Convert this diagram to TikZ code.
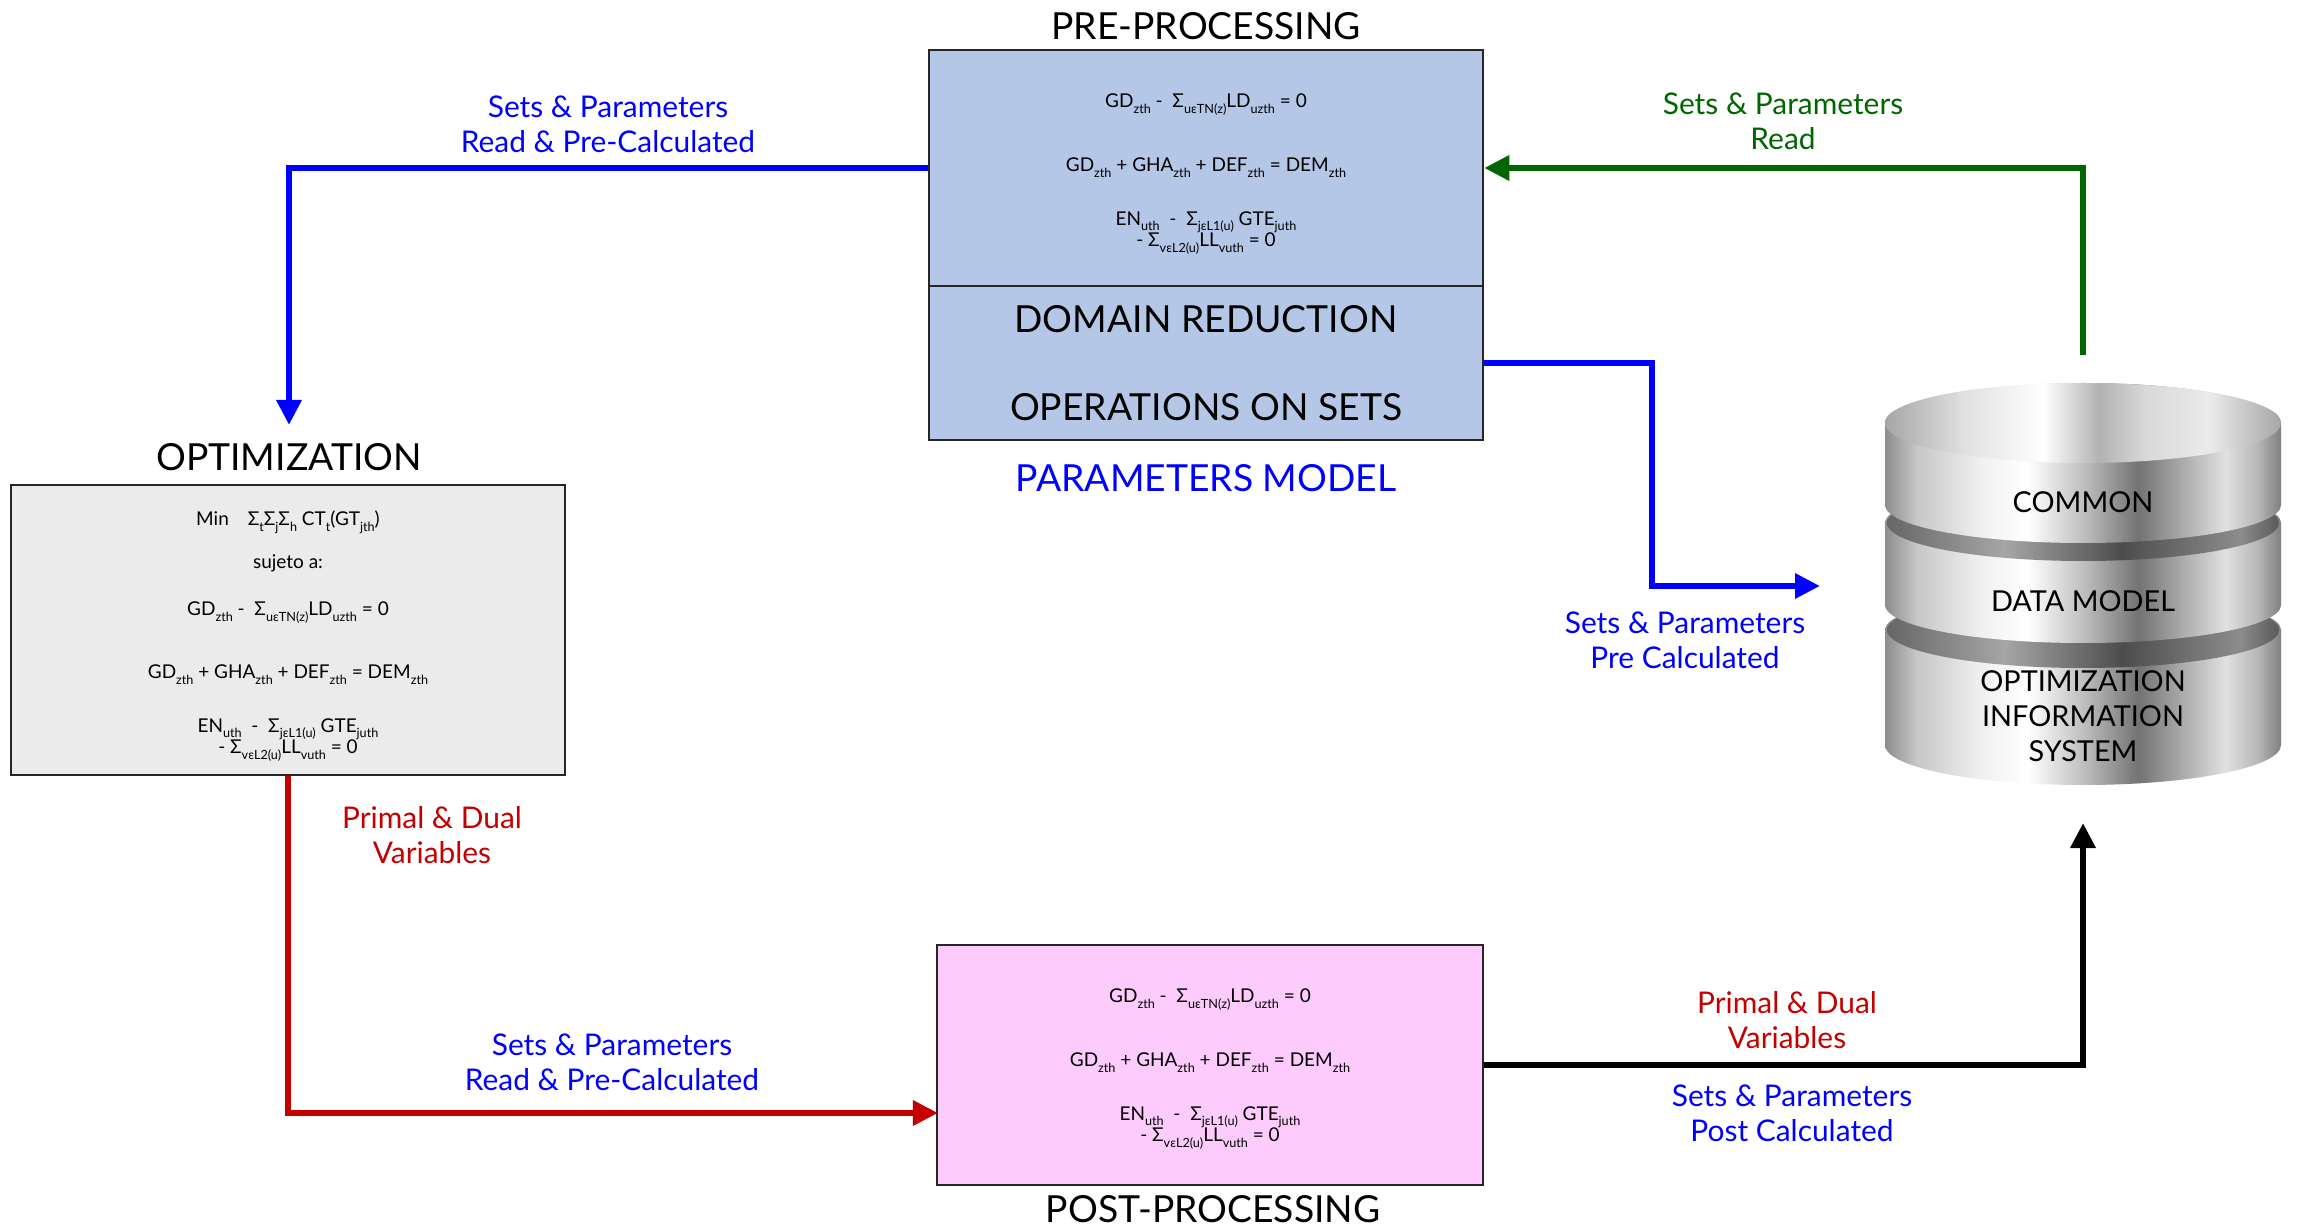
\documentclass[tikz,border=0pt]{standalone}
\usepackage{fontspec}
\setmainfont{Lato}
\usetikzlibrary{arrows.meta}
\definecolor{preblue}{RGB}{180,199,231}
\definecolor{optgray}{RGB}{235,235,235}
\definecolor{postpink}{RGB}{253,204,253}
\definecolor{flowgreen}{RGB}{0,102,0}
\definecolor{flowred}{RGB}{196,0,0}
\pgfdeclarehorizontalshading{metal}{100bp}{color(0bp)=(black!45); color(25bp)=(black!45); color(29bp)=(black!22); color(37bp)=(black!6); color(43bp)=(white); color(50bp)=(black!25); color(57bp)=(black!55); color(62bp)=(black!35); color(68bp)=(black!12); color(72bp)=(black!28); color(75bp)=(black!50); color(100bp)=(black!50)}
\pgfdeclarehorizontalshading{groove}{100bp}{color(0bp)=(black!60); color(25bp)=(black!60); color(40bp)=(black!35); color(55bp)=(black!70); color(70bp)=(black!45); color(75bp)=(black!65); color(100bp)=(black!65)}
\pgfdeclarehorizontalshading{cap}{100bp}{color(0bp)=(black!35); color(25bp)=(black!35); color(35bp)=(black!12); color(45bp)=(white); color(52bp)=(black!30); color(58bp)=(black!15); color(66bp)=(black!8); color(75bp)=(black!35); color(100bp)=(black!35)}
% small lowered index in the text font
\newcommand{\sub}[1]{\raisebox{-0.3em}{\fontsize{3.6}{3.8}\selectfont #1}}
\newcommand{\eqGD}{GD\sub{zth} -\ \ Σ\sub{uεTN(z)}LD\sub{uzth} = 0}
\newcommand{\eqDEM}{GD\sub{zth} + GHA\sub{zth} + DEF\sub{zth} = DEM\sub{zth}}
\newcommand{\eqEN}{EN\sub{uth} \ -\ \ Σ\sub{jεL1(u)} GTE\sub{juth}\\- Σ\sub{vεL2(u)}LL\sub{vuth} = 0}
\setlength{\lineskiplimit}{-10pt}
\tikzset{
  box/.style={draw=black!85, line width=0.6pt, align=center},
  eqfont/.style={align=center, font=\fontsize{5.4}{6.1}\selectfont},
  title/.style={font=\fontsize{10.6}{12}\selectfont},
  lbl/.style={align=center, font=\fontsize{8.5}{10}\selectfont},
  dblbl/.style={align=center, font=\fontsize{8.2}{10}\selectfont},
  flow/.style={line width=1.85pt, -{Triangle[length=0.25cm, width=0.24cm]}},
}

\begin{document}
\begin{tikzpicture}[x=0.01cm, y=-0.01cm]
\useasboundingbox (0,0) rectangle (2297,1228);
\fill[white] (0,0) rectangle (2297,1228);

\node (pre) at (1206,168) [box, fill=preblue, minimum width=5.54cm, minimum height=2.36cm] {};
\node (dom) at (1206,363) [box, fill=preblue, minimum width=5.54cm, minimum height=1.54cm, title] {DOMAIN REDUCTION\\[13pt]OPERATIONS ON SETS};
\node (opt) at (288,630) [box, fill=optgray, minimum width=5.53cm, minimum height=2.89cm] {};
\node (post) at (1210,1065) [box, fill=postpink, minimum width=5.45cm, minimum height=2.39cm] {};

\node (preeq) at ([yshift=-0.06cm]pre.center) [eqfont] {\eqGD\\[12.2pt]\eqDEM\\[9.1pt]\eqEN};
\node (opteq) at ([yshift=-0.06cm]opt.center) [eqfont] {Min\quad Σ\sub{t}Σ\sub{j}Σ\sub{h} CT\sub{t}(GT\sub{jth})\\[6pt]sujeto a:\\[7.4pt]\eqGD\\[11.8pt]\eqDEM\\[9.1pt]\eqEN};
\node (posteq) at ([yshift=-0.04cm]post.center) [eqfont] {\eqGD\\[12.2pt]\eqDEM\\[9.1pt]\eqEN};

\node (pretitle) at (1206,26) [title] {PRE-PROCESSING};
\node (parmodel) at (1206,478) [title, blue] {PARAMETERS MODEL};
\node (opttitle) at (289,457) [title] {OPTIMIZATION};
\node (posttitle) at (1213,1209) [title] {POST-PROCESSING};

\begin{scope}[shift={(2083,423)}, y=0.01cm]
  \shade[shading=metal] (-198,-207) -- (-198,-322) arc[start angle=180, end angle=360, x radius=198, y radius=40] -- (198,-207) arc[start angle=0, end angle=180, x radius=198, y radius=38] -- cycle;
  \shade[shading=groove] (0,-207) ellipse[x radius=196, y radius=38];
  \shade[shading=metal] (-198,-100) -- (-198,-182) arc[start angle=180, end angle=360, x radius=198, y radius=38] -- (198,-100) arc[start angle=0, end angle=180, x radius=198, y radius=38] -- cycle;
  \shade[shading=groove] (0,-100) ellipse[x radius=196, y radius=38];
  \shade[shading=metal] (-198,0) -- (-198,-82) arc[start angle=180, end angle=360, x radius=198, y radius=38] -- (198,0) arc[start angle=0, end angle=180, x radius=198, y radius=40] -- cycle;
  \shade[shading=cap] (0,0) ellipse[x radius=198, y radius=40];
\end{scope}
\node (common) at (2083,502) [dblbl] {COMMON};
\node (datamodel) at (2083,601) [dblbl] {DATA MODEL};
\node (ois) at (2083,716) [dblbl] {OPTIMIZATION\\INFORMATION\\SYSTEM};

\coordinate (optin) at (289,425);
\coordinate (dbtop) at (2083,355);
\coordinate (bend) at (1652,586);
\coordinate (dbside) at (1820,586);
\coordinate (postin) at (938,1113);
\coordinate (dbbot) at (2083,823);

\draw[flow, blue] (pre.west) -| (optin);
\draw[flow, flowgreen] (dbtop) |- (pre.east);
\draw[flow, blue] (dom.east) -| (bend) -- (dbside);
\draw[flow, flowred] (opt.south) |- (postin);
\draw[flow, black] (post.east) -| (dbbot);

\node (readpre) at (608,124) [lbl, blue] {Sets \& Parameters\\Read \& Pre-Calculated};
\node (readdb) at (1783,121) [lbl, flowgreen] {Sets \& Parameters\\Read};
\node (precalc) at (1685,640) [lbl, blue] {Sets \& Parameters\\Pre Calculated};
\node (primal) at (432,835) [lbl, flowred] {Primal \& Dual\\Variables};
\node (readpost) at (612,1062) [lbl, blue] {Sets \& Parameters\\Read \& Pre-Calculated};
\node (primaldb) at (1787,1020) [lbl, flowred] {Primal \& Dual\\Variables};
\node (postcalc) at (1792,1113) [lbl, blue] {Sets \& Parameters\\Post Calculated};
\end{tikzpicture}
\end{document}
